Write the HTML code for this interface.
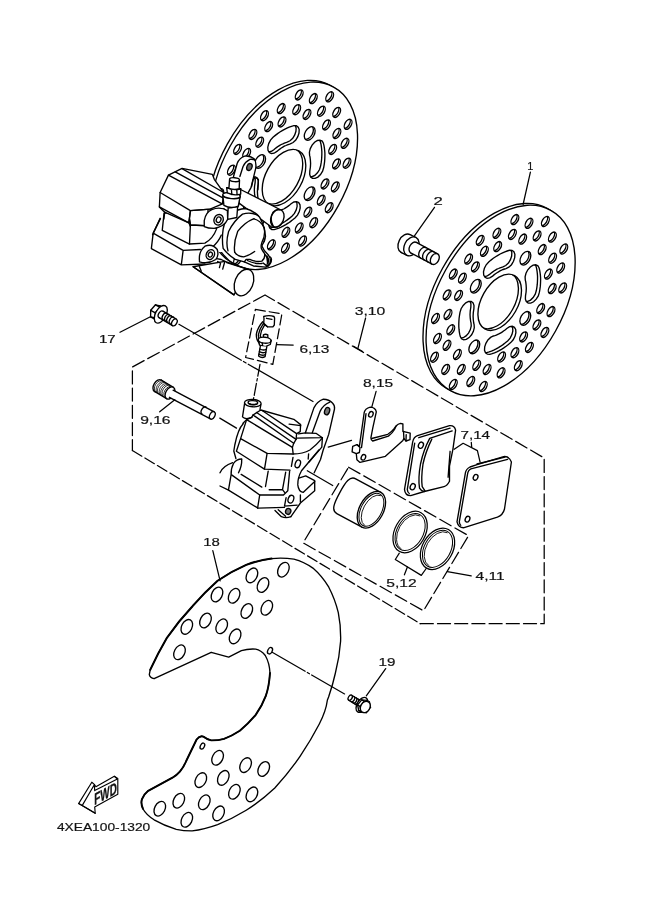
<!DOCTYPE html>
<html><head><meta charset="utf-8"><title>Front brake caliper</title>
<style>
html,body{margin:0;padding:0;background:#fff}
svg{display:block;filter:grayscale(1)}
text{font-family:"Liberation Sans",sans-serif;fill:#111}
</style></head><body>
<svg width="661" height="913" viewBox="0 0 661 913">
<rect width="661" height="913" fill="#fff"/>
<defs><path id="dS" d="M542.7 226.3 A5.50 3.20 119.1 1 0 548.1 216.7 A5.50 3.20 119.1 1 0 542.7 226.3Z M534.4 240.7 A5.50 3.20 119.1 1 0 539.8 231.1 A5.50 3.20 119.1 1 0 534.4 240.7Z M549.7 241.9 A5.50 3.20 119.1 1 0 555.1 232.3 A5.50 3.20 119.1 1 0 549.7 241.9Z M539.5 254.4 A5.50 3.20 119.1 1 0 544.9 244.8 A5.50 3.20 119.1 1 0 539.5 254.4Z M561.1 253.8 A5.50 3.20 119.1 1 0 566.5 244.2 A5.50 3.20 119.1 1 0 561.1 253.8Z M549.9 263.0 A5.50 3.20 119.1 1 0 555.3 253.4 A5.50 3.20 119.1 1 0 549.9 263.0Z M558.0 272.8 A5.50 3.20 119.1 1 0 563.4 263.2 A5.50 3.20 119.1 1 0 558.0 272.8Z M545.7 278.9 A5.50 3.20 119.1 1 0 551.1 269.3 A5.50 3.20 119.1 1 0 545.7 278.9Z M560.0 292.7 A5.50 3.20 119.1 1 0 565.4 283.1 A5.50 3.20 119.1 1 0 560.0 292.7Z M549.5 293.4 A5.50 3.20 119.1 1 0 554.9 283.8 A5.50 3.20 119.1 1 0 549.5 293.4Z M548.3 316.4 A5.50 3.20 119.1 1 0 553.7 306.8 A5.50 3.20 119.1 1 0 548.3 316.4Z M538.0 313.4 A5.50 3.20 119.1 1 0 543.4 303.8 A5.50 3.20 119.1 1 0 538.0 313.4Z M542.2 337.2 A5.50 3.20 119.1 1 0 547.6 327.6 A5.50 3.20 119.1 1 0 542.2 337.2Z M534.2 329.7 A5.50 3.20 119.1 1 0 539.6 320.1 A5.50 3.20 119.1 1 0 534.2 329.7Z M526.7 352.2 A5.50 3.20 119.1 1 0 532.1 342.6 A5.50 3.20 119.1 1 0 526.7 352.2Z M520.9 341.7 A5.50 3.20 119.1 1 0 526.3 332.1 A5.50 3.20 119.1 1 0 520.9 341.7Z M515.6 370.5 A5.50 3.20 119.1 1 0 521.0 360.9 A5.50 3.20 119.1 1 0 515.6 370.5Z M512.2 357.5 A5.50 3.20 119.1 1 0 517.6 347.9 A5.50 3.20 119.1 1 0 512.2 357.5Z M498.4 377.6 A5.50 3.20 119.1 1 0 503.8 368.0 A5.50 3.20 119.1 1 0 498.4 377.6Z M498.9 361.8 A5.50 3.20 119.1 1 0 504.3 352.2 A5.50 3.20 119.1 1 0 498.9 361.8Z M480.6 391.3 A5.50 3.20 119.1 1 0 486.0 381.7 A5.50 3.20 119.1 1 0 480.6 391.3Z M484.4 374.3 A5.50 3.20 119.1 1 0 489.8 364.7 A5.50 3.20 119.1 1 0 484.4 374.3Z M468.1 386.3 A5.50 3.20 119.1 1 0 473.5 376.7 A5.50 3.20 119.1 1 0 468.1 386.3Z M474.0 370.1 A5.50 3.20 119.1 1 0 479.4 360.5 A5.50 3.20 119.1 1 0 474.0 370.1Z M450.6 389.3 A5.50 3.20 119.1 1 0 456.0 379.7 A5.50 3.20 119.1 1 0 450.6 389.3Z M458.6 374.2 A5.50 3.20 119.1 1 0 464.0 364.6 A5.50 3.20 119.1 1 0 458.6 374.2Z M443.0 374.2 A5.50 3.20 119.1 1 0 448.4 364.6 A5.50 3.20 119.1 1 0 443.0 374.2Z M454.7 359.3 A5.50 3.20 119.1 1 0 460.1 349.7 A5.50 3.20 119.1 1 0 454.7 359.3Z M431.8 362.0 A5.50 3.20 119.1 1 0 437.2 352.4 A5.50 3.20 119.1 1 0 431.8 362.0Z M444.3 350.1 A5.50 3.20 119.1 1 0 449.7 340.5 A5.50 3.20 119.1 1 0 444.3 350.1Z M434.8 343.3 A5.50 3.20 119.1 1 0 440.2 333.7 A5.50 3.20 119.1 1 0 434.8 343.3Z M448.1 334.6 A5.50 3.20 119.1 1 0 453.5 325.0 A5.50 3.20 119.1 1 0 448.1 334.6Z M432.8 323.3 A5.50 3.20 119.1 1 0 438.2 313.7 A5.50 3.20 119.1 1 0 432.8 323.3Z M445.3 319.3 A5.50 3.20 119.1 1 0 450.7 309.7 A5.50 3.20 119.1 1 0 445.3 319.3Z M444.4 299.7 A5.50 3.20 119.1 1 0 449.8 290.1 A5.50 3.20 119.1 1 0 444.4 299.7Z M455.9 300.2 A5.50 3.20 119.1 1 0 461.3 290.6 A5.50 3.20 119.1 1 0 455.9 300.2Z M450.6 278.9 A5.50 3.20 119.1 1 0 456.0 269.3 A5.50 3.20 119.1 1 0 450.6 278.9Z M459.7 283.0 A5.50 3.20 119.1 1 0 465.1 273.4 A5.50 3.20 119.1 1 0 459.7 283.0Z M465.9 263.9 A5.50 3.20 119.1 1 0 471.3 254.3 A5.50 3.20 119.1 1 0 465.9 263.9Z M472.7 271.7 A5.50 3.20 119.1 1 0 478.1 262.1 A5.50 3.20 119.1 1 0 472.7 271.7Z M477.5 245.2 A5.50 3.20 119.1 1 0 482.9 235.6 A5.50 3.20 119.1 1 0 477.5 245.2Z M481.7 256.1 A5.50 3.20 119.1 1 0 487.1 246.5 A5.50 3.20 119.1 1 0 481.7 256.1Z M494.2 238.1 A5.50 3.20 119.1 1 0 499.6 228.5 A5.50 3.20 119.1 1 0 494.2 238.1Z M495.0 251.4 A5.50 3.20 119.1 1 0 500.4 241.8 A5.50 3.20 119.1 1 0 495.0 251.4Z M512.2 224.4 A5.50 3.20 119.1 1 0 517.6 214.8 A5.50 3.20 119.1 1 0 512.2 224.4Z M509.7 239.2 A5.50 3.20 119.1 1 0 515.1 229.6 A5.50 3.20 119.1 1 0 509.7 239.2Z M526.3 228.1 A5.50 3.20 119.1 1 0 531.7 218.5 A5.50 3.20 119.1 1 0 526.3 228.1Z M520.0 243.9 A5.50 3.20 119.1 1 0 525.4 234.3 A5.50 3.20 119.1 1 0 520.0 243.9Z M521.8 264.7 A7.40 4.60 119.1 1 0 529.0 251.7 A7.40 4.60 119.1 1 0 521.8 264.7Z M521.7 324.9 A7.40 4.60 119.1 1 0 528.9 311.9 A7.40 4.60 119.1 1 0 521.7 324.9Z M470.7 353.4 A7.40 4.60 119.1 1 0 477.9 340.4 A7.40 4.60 119.1 1 0 470.7 353.4Z M472.2 292.7 A7.40 4.60 119.1 1 0 479.4 279.7 A7.40 4.60 119.1 1 0 472.2 292.7Z"/><path id="dB" d="M484.8 329.0 A30.56 18.18 119.1 1 0 514.6 275.6 A30.56 18.18 119.1 1 0 484.8 329.0Z M539.1 268.0 L539.7 270.4 L540.1 272.8 L540.4 275.4 L540.6 278.0 L540.6 280.8 L540.5 283.5 L540.3 286.4 L539.9 289.3 L539.4 292.2 L538.3 295.9 L536.2 299.2 L533.6 301.8 L530.8 303.1 L528.2 303.1 L526.3 301.7 L525.4 299.1 L525.5 295.8 L525.8 293.9 L526.1 292.0 L526.2 290.1 L526.3 288.3 L526.2 286.5 L526.1 284.8 L525.9 283.2 L525.7 281.6 L525.3 280.1 L525.1 276.9 L526.0 273.3 L527.8 269.8 L530.3 267.0 L533.1 265.2 L535.7 264.8 L537.9 265.8Z M510.7 342.6 L508.4 344.5 L506.1 346.3 L503.8 347.9 L501.5 349.3 L499.2 350.6 L496.8 351.8 L494.5 352.8 L492.2 353.6 L489.9 354.3 L487.4 354.2 L485.5 352.8 L484.5 350.3 L484.7 346.9 L485.9 343.3 L487.9 339.9 L490.6 337.4 L493.4 336.0 L494.8 335.6 L496.3 335.1 L497.8 334.4 L499.4 333.7 L500.9 332.8 L502.4 331.9 L503.9 330.8 L505.4 329.7 L506.8 328.5 L509.6 326.7 L512.3 326.3 L514.4 327.3 L515.7 329.5 L515.9 332.7 L515.0 336.3 L513.2 339.8Z M460.3 336.6 L459.7 334.2 L459.3 331.8 L459.0 329.2 L458.8 326.6 L458.8 323.8 L458.9 321.1 L459.1 318.2 L459.5 315.3 L460.0 312.4 L461.1 308.7 L463.2 305.4 L465.8 302.8 L468.6 301.5 L471.2 301.5 L473.1 302.9 L474.0 305.5 L473.9 308.8 L473.6 310.7 L473.3 312.6 L473.2 314.5 L473.1 316.3 L473.2 318.1 L473.3 319.8 L473.5 321.4 L473.7 323.0 L474.1 324.5 L474.3 327.7 L473.4 331.3 L471.6 334.8 L469.1 337.6 L466.3 339.4 L463.7 339.8 L461.5 338.8Z M488.7 262.0 L491.0 260.1 L493.3 258.3 L495.6 256.7 L497.9 255.3 L500.2 254.0 L502.6 252.8 L504.9 251.8 L507.2 251.0 L509.5 250.3 L512.0 250.4 L513.9 251.8 L514.9 254.3 L514.7 257.7 L513.5 261.3 L511.5 264.7 L508.8 267.2 L506.0 268.6 L504.6 269.0 L503.1 269.5 L501.6 270.2 L500.0 270.9 L498.5 271.8 L497.0 272.7 L495.5 273.8 L494.0 274.9 L492.6 276.1 L489.8 277.9 L487.1 278.3 L485.0 277.3 L483.7 275.1 L483.5 271.9 L484.4 268.3 L486.2 264.8Z"/><path id="dO" d="M450.5 390.6 A103.10 62.10 119.1 1 0 550.7 210.4 A103.10 62.10 119.1 1 0 450.5 390.6Z"/><path id="dO2" d="M450.7 389.1 A101.40 61.00 119.1 1 0 549.3 211.9 A101.40 61.00 119.1 1 0 450.7 389.1Z"/>
<clipPath id="cS"><use href="#dS"/></clipPath><clipPath id="cB"><use href="#dB"/></clipPath>
<g id="disc" fill="none" stroke="#000" stroke-width="1.35">
<use href="#dO" transform="translate(-3.06 -1.70)" fill="#fff"/>
<use href="#dO" fill="#fff"/>
<g clip-path="url(#cS)"><use href="#dS" transform="translate(-1.75 -0.97)"/></g>
<g clip-path="url(#cB)"><use href="#dB" transform="translate(-3.06 -1.70)"/></g>
<use href="#dS"/><use href="#dB"/>
</g>
<g id="discL" fill="none" stroke="#000" stroke-width="1.35">
<use href="#dO2" transform="translate(-3.06 -1.70)" fill="#fff"/>
<use href="#dO2" fill="#fff"/>
<g clip-path="url(#cS)"><use href="#dS" transform="translate(-1.75 -0.97)"/></g>
<g clip-path="url(#cB)"><use href="#dB" transform="translate(-3.06 -1.70)"/></g>
<use href="#dS"/><use href="#dB"/>
</g>
</defs>
<g fill="none" stroke="#000" stroke-width="1.25" stroke-linecap="round" stroke-linejoin="round">
<path d="M265 295 L132.4 367 L132.4 450.5 M420.3 623.7 L544.2 623.7 L544.2 458 L265 295" stroke-dasharray="13 4.2"/>
<path d="M132.4 450.5 L420.3 623.7" stroke-dasharray="11 3.6"/>
<path d="M348.6 467.2 L468.5 535.7 L423.5 610.8 L303.1 542.9 Z" stroke-dasharray="13 4.5"/>
<path d="M255.4 309.4 L281.9 313.9 L272.8 364.3 L245.6 357.5 Z" stroke-dasharray="10 4"/>
<path d="M178.9 324.3 L313 401.5" stroke-dasharray="72 2.5 3 2.5 100"/>
<path d="M260 364.3 L253.5 399" stroke-dasharray="12 2.5 2.5 2.5"/>
<path d="M219.8 418.1 L236.5 428.1"/>
<path d="M328.2 447.1 L351.5 440.3"/>
<path d="M307.3 470.7 L332.7 485.5"/>
</g>
<use href="#discL" transform="translate(-215.7 -124.7)"/>
<use href="#disc"/>

<g transform="translate(215 140) scale(0.10590)" fill="none" stroke="#000" stroke-width="12.75" stroke-linecap="round" stroke-linejoin="round">
<path d="M175 345 L210 220 Q230 170 280 152 Q330 145 370 178 Q392 205 385 265 L340 450 L300 520 L170 450Z" fill="#fff"/>
<path d="M235 345 L265 250 Q285 205 330 183 Q355 178 378 188"/>
<ellipse cx="325" cy="255" rx="24" ry="34" transform="rotate(20 325 255)" fill="#666"/>
<path d="M345 440 L360 375 Q385 340 410 375 L405 470"/>
</g>
<g transform="translate(205 160) scale(0.15129)" fill="none" stroke="#000" stroke-width="8.92" stroke-linecap="round" stroke-linejoin="round">
<path d="M235 195 L505 332 Q535 380 500 430 Q470 455 435 440 L225 285Z" fill="#fff"/>
<ellipse cx="478" cy="385" rx="42" ry="60" transform="rotate(22 478 385)" fill="#fff"/>
<path d="M450 435 Q425 390 450 345 Q470 322 495 330"/>
</g>
<g transform="translate(145 215) scale(0.18155)" fill="none" stroke="#000" stroke-width="7.44" stroke-linecap="round" stroke-linejoin="round">
<path d="M440 255 L570 300 L490 440 L265 285Z" fill="#fff"/>
<path d="M450 262 L568 300 M265 285 L490 440 M300 285 L310 310"/>
<ellipse cx="545" cy="372" rx="50" ry="76" transform="rotate(22 545 372)" fill="#fff"/>
</g>
<g transform="translate(205 200) scale(0.12103)" fill="none" stroke="#000" stroke-width="11.15" stroke-linecap="round" stroke-linejoin="round">
<path d="M30 200 L160 200 L160 430 L40 430Z" fill="#fff" stroke="none"/>
<path d="M150 240 Q160 175 215 118 Q270 72 335 70 Q400 85 450 140 Q492 215 500 300 Q490 340 470 380 Q485 420 520 450 Q548 480 540 520 Q525 545 500 555 L400 545 L325 512 L250 490 Q185 450 150 400 Q138 320 150 240Z" fill="#fff"/>
<path d="M190 420 Q170 350 195 260 Q240 170 310 117 Q380 95 440 130"/>
<path d="M245 430 Q235 350 270 260 Q325 185 400 155 Q455 165 490 230 Q500 300 470 350 Q460 380 466 402 Q480 428 492 442 Q500 480 470 505 Q420 515 370 490 L340 490 L325 512"/>
<path d="M245 430 Q265 465 320 470 Q370 455 410 425"/>
<path d="M350 500 Q410 530 470 525 M498 452 Q520 480 515 530 M512 462 Q532 490 528 535 M480 520 Q500 540 520 545"/>
<path d="M135 290 Q110 350 60 390 L0 402"/>
</g>
<g transform="translate(145 215) scale(0.18155)" fill="none" stroke="#000" stroke-width="7.44" stroke-linecap="round" stroke-linejoin="round">
<path d="M395 240 L420 245 L440 255 L428 298 M400 256 L416 266 L410 290"/>
</g>
<g transform="translate(145 215) scale(0.18155)" fill="none" stroke="#000" stroke-width="7.44" stroke-linecap="round" stroke-linejoin="round">
<path d="M85 20 L45 100 L35 185 L200 275 L330 270 L305 190 L250 160 L95 85 Z" fill="#fff" stroke="none"/>
<path d="M85 20 L45 100 L35 185 L200 275 L330 270 M45 100 L210 195 L200 275 M210 195 L305 190"/>
<path d="M105 -10 L95 85 L245 160 L330 155 Q375 130 395 75 L355 60 L250 55 L240 -10Z" fill="#fff"/>
<path d="M245 160 L250 55 L355 60 M240 -10 L250 55" />
</g>
<g transform="translate(145 160) scale(0.15129)" fill="none" stroke="#000" stroke-width="8.92" stroke-linecap="round" stroke-linejoin="round">
<path d="M155 100 L245 55 L445 95 L458 128 L520 215 L512 290 L430 325 L300 335 L290 415 L130 345 L95 310 L100 215Z" fill="#fff"/>
<path d="M155 100 L510 290 M245 57 L520 215 M200 78 L515 250 M100 215 L300 335 L430 325 M95 310 L290 415 M300 335 L290 415 L300 440 M130 345 L125 390 M100 385 L50 495"/>
</g>
<g transform="translate(205 160) scale(0.15129)" fill="none" stroke="#000" stroke-width="8.92" stroke-linecap="round" stroke-linejoin="round">
<path d="M-5 400 Q5 345 45 328 Q100 305 148 335 L150 392 Q130 440 60 452 Q20 452 -5 440Z" fill="#fff"/>
<ellipse cx="90" cy="395" rx="30" ry="36" transform="rotate(25 90 395)"/>
<ellipse cx="90" cy="395" rx="15" ry="19" transform="rotate(25 90 395)"/>
</g>
<g transform="translate(145 215) scale(0.18155)" fill="none" stroke="#000" stroke-width="7.44" stroke-linecap="round" stroke-linejoin="round">
<path d="M300 250 Q295 200 330 172 Q370 155 398 190 Q408 225 390 245 Q350 272 300 258Z" fill="#fff"/>
<ellipse cx="360" cy="218" rx="22" ry="28" transform="rotate(25 360 218)"/>
<ellipse cx="360" cy="218" rx="11" ry="14" transform="rotate(25 360 218)"/>
</g>
<g transform="translate(205 160) scale(0.15129)" fill="none" stroke="#000" stroke-width="8.92" stroke-linecap="round" stroke-linejoin="round">
<path d="M153 318 L150 392 L210 380 L216 308Z" fill="#fff"/>
<path d="M118 235 L125 300 Q170 325 220 305 L232 240Z" fill="#fff"/>
<ellipse cx="175" cy="235" rx="58" ry="20" transform="rotate(5 175 235)" fill="#fff"/>
<path d="M143 183 L148 218 Q190 238 236 225 L236 190Z" fill="#fff"/>
<path d="M143 183 Q190 205 236 190 M175 197 L177 228 M210 196 L212 230"/>
<path d="M162 132 L158 188 Q195 200 226 190 L228 135Z" fill="#fff"/>
<ellipse cx="195" cy="130" rx="33" ry="13" transform="rotate(5 195 130)" fill="#fff"/>
</g>
<g fill="none" stroke="#000" stroke-width="1.35" stroke-linecap="round" stroke-linejoin="round">
<ellipse cx="405.6" cy="243.5" rx="10.00" ry="7.00" transform="rotate(116.6 405.6 243.5)" fill="#fff" />
<path d="M401.1 252.4 L406.9 255.3 L415.9 237.5 L410.1 234.6Z" fill="#fff" stroke="none"/>
<path d="M401.1 252.4 L406.9 255.3 M415.9 237.5 L410.1 234.6" fill="none"/>
<ellipse cx="411.4" cy="246.4" rx="10.00" ry="7.00" transform="rotate(116.6 411.4 246.4)" fill="#fff" />
<ellipse cx="413.5" cy="247.6" rx="5.90" ry="4.00" transform="rotate(118.2 413.5 247.6)" fill="#fff" />
<path d="M410.7 252.8 L432.0 264.2 L437.6 253.8 L416.3 242.4Z" fill="#fff" stroke="none"/>
<path d="M410.7 252.8 L432.0 264.2 M437.6 253.8 L416.3 242.4" fill="none"/>
<ellipse cx="434.8" cy="259.0" rx="5.90" ry="4.00" transform="rotate(118.2 434.8 259.0)" fill="#fff" />
<path d="M420.4 258.0 A5.90 4.00 118.0 0 1 426.0 247.6" fill="none"/>
<path d="M424.3 260.1 A5.90 4.00 118.0 0 1 429.9 249.7" fill="none"/>
<path d="M428.1 262.1 A5.90 4.00 118.0 0 1 433.7 251.7" fill="none"/>
</g>
<g fill="none" stroke="#000" stroke-width="1.35" stroke-linecap="round" stroke-linejoin="round">
<ellipse cx="252.8" cy="403.1" rx="8.30" ry="3.70" transform="rotate(4.0 252.8 403.1)" fill="none" />
<ellipse cx="252.9" cy="402.7" rx="4.80" ry="2.10" transform="rotate(4.0 252.9 402.7)" fill="none" />
<path d="M249.5 403.6 Q253 405.2 256.5 404" />
<path d="M244.6 403.3 L242.5 416.9 Q245.5 420 251.7 417.4" />
<path d="M260.9 404.7 L260 409.5" />
<path d="M251.7 417.4 L253 415 L260.8 410 L293.8 419.3 L300.6 424.6 L300.2 431.6 L296.6 433.6" />
<path d="M289.1 424.1 L300.7 425.6" />
<path d="M262.5 410.8 L296.6 433.6 L296.1 439.4 L293.7 443.3 L292.4 447.4 L293.2 454.1" />
<path d="M256.6 412.5 L296.1 439.4" />
<path d="M253 415 L293.7 443.3" />
<path d="M243 423.3 L246.6 419.6 L292.4 447.4" />
<path d="M246.6 419.6 L251.7 417.4" />
<path d="M246.6 419.6 L240.6 438.6 L267.1 453.4 L292.7 454 Q303 454 309.9 450 Q316 445.5 321.8 438.6" />
<path d="M243.2 423.8 Q238 429 234.8 445 L233.8 451 L235.9 458.5" />
<path d="M240.6 438.6 L236.4 451.3 L264.5 469.1 L290 470.2" />
<path d="M267.1 453.4 L264.5 469.1" />
<path d="M298.5 433.8 L305.4 432.8 L316 433.3 L322.4 437.7 L296.9 438.1" />
<path d="M322.4 437.7 L321.8 447.1 L309 462" />
<path d="M308.6 454 L308.2 459" />
<path d="M305.4 432.8 L313.9 407.9 Q317 401.5 323.4 399.2 Q329 399.2 332.5 403 Q335 405.5 334.5 409 L328.7 434.4 L323.2 450 L320.5 459.5 L314.2 472.8" />
<path d="M312.3 432.8 L320.2 411.1 Q323 405 329.8 402.1" />
<ellipse cx="327.1" cy="411.1" rx="2.40" ry="3.80" transform="rotate(20.0 327.1 411.1)" fill="#777" />
<path d="M241.7 459 Q236.5 459 233.5 463.5 Q231 468 231.1 474.9 L228.5 489.9" />
<path d="M241.7 459.5 Q242 466 238.5 472.8" />
<path d="M220 472.8 Q223 466 232.7 462.7" />
<path d="M220 486 L228.5 490.2 L258.1 508.2 L284.5 507.4" />
<path d="M231.6 474.9 L259.7 495 L283.5 495 L287.8 490.8 L289.6 471.2" />
<path d="M259.7 495 L257.6 508.2" />
<path d="M241.2 474.4 L261.8 487.1" />
<path d="M268.2 471.2 L265.5 486.5" />
<path d="M285.7 472.2 L282.5 489.7 L269.2 489.7 M282.5 489.7 L284.6 492.4" />
<path d="M293 457.4 L291.4 466.4" />
<ellipse cx="297.8" cy="463.8" rx="2.50" ry="4.00" transform="rotate(20.0 297.8 463.8)" fill="none" />
<ellipse cx="290.9" cy="499.2" rx="2.70" ry="4.00" transform="rotate(20.0 290.9 499.2)" fill="none" />
<path d="M286.1 497.7 L284.5 506.1 L297.2 505.1" />
<path d="M318.9 450 L301.5 470.7 Q297.5 478 297.8 484.9 Q298.5 491.5 303.1 492.4 L314.7 481.5" />
<path d="M298.8 478.1 L305.7 475.9 L314.7 480.7 L314.7 490.8 L300.4 503 L290.9 516.7" />
<path d="M300.4 495 L300.4 501.9" />
<path d="M275 510.4 L281.4 516.7 Q286 518.5 290.9 516.7" />
<path d="M278.2 509.8 L285.6 516.2" />
<ellipse cx="288.2" cy="511.4" rx="2.60" ry="3.00" transform="rotate(20.0 288.2 511.4)" fill="#777" />
</g>
<g fill="none" stroke="#000" stroke-width="1.35" stroke-linecap="round" stroke-linejoin="round">
<path d="M380.8 492.4 L355.7 478.8 C350.0 475.7 345.5 482.1 339.8 492.6 C334.0 503.2 331.1 510.5 336.8 513.6 L362.0 527.2" fill="#fff"/>
<ellipse cx="371.4" cy="509.8" rx="19.80" ry="12.00" transform="rotate(118.5 371.4 509.8)" fill="#fff" />
<ellipse cx="371.4" cy="509.8" rx="17.90" ry="10.30" transform="rotate(118.5 371.4 509.8)" fill="none" stroke-width="1.0"/>
<path d="M364.4 525.2 A16.90 9.40 118.5 0 1 380.5 495.5" fill="none" stroke-width="0.9"/>
<ellipse cx="410.1" cy="532.0" rx="22.20" ry="15.20" transform="rotate(119.5 410.1 532.0)" fill="#fff" stroke-width="1.25"/>
<ellipse cx="410.1" cy="532.0" rx="20.00" ry="13.10" transform="rotate(119.5 410.1 532.0)" fill="none" stroke-width="1.0"/>
<path d="M401.1 548.7 A18.90 12.00 119.5 0 1 419.8 515.8" fill="none" stroke-width="0.9"/>
<ellipse cx="437.5" cy="548.8" rx="22.20" ry="15.20" transform="rotate(119.5 437.5 548.8)" fill="#fff" stroke-width="1.25"/>
<ellipse cx="437.5" cy="548.8" rx="20.00" ry="13.10" transform="rotate(119.5 437.5 548.8)" fill="none" stroke-width="1.0"/>
<path d="M428.6 565.5 A18.90 12.00 119.5 0 1 447.2 532.6" fill="none" stroke-width="0.9"/>
<path d="M417.5 435.7 L449.5 425.7 Q454.5 425.2 455.6 430.2 L452.9 449.3 L449.5 466 L449.5 481.3 Q447 486 444 486.7 L424.3 491.5 L410.7 495.6 Q405 495.6 404.5 489.4 L412.7 441.8 Q413.8 437 417.5 435.7Z" fill="#fff"/>
<path d="M418.8 437.7 L450.1 428.2 M414.7 443.1 L407.3 489.4 Q407.5 492.5 409.3 493.5" />
<ellipse cx="420.9" cy="445.2" rx="2.40" ry="3.20" transform="rotate(25.0 420.9 445.2)" fill="none" />
<ellipse cx="412.7" cy="486.7" rx="2.40" ry="3.20" transform="rotate(25.0 412.7 486.7)" fill="none" />
<path d="M452.2 430.9 L429.7 438.4 Q423.5 450 420.5 464 Q418 478 419.5 488.1 Q421 491 424.3 491.5" />
<path d="M431.8 439.1 Q425.5 452 423 464 Q421 478 422.2 486.7 L425 490.8" />
<path d="M450.1 451.3 L448.1 477.2" />
<path d="M465.4 472.9 Q466 469 470 467 L477 464.7 L503.6 456.6 Q509 456 511.4 462 L504.5 509 Q503 515 497.4 517.2 L464.1 527.7 Q458.5 528 457 521.9 Z" fill="#fff"/>
<path d="M467.5 474.3 L459.3 521.9 Q459.5 524.5 460.7 525.3 M467.5 474.3 Q468 470 470.9 468.8 L507.6 459.3 M477 464 L504.9 457.2" />
<ellipse cx="475.6" cy="477.3" rx="2.20" ry="3.00" transform="rotate(25.0 475.6 477.3)" fill="none" />
<ellipse cx="467.5" cy="519.2" rx="2.20" ry="3.00" transform="rotate(25.0 467.5 519.2)" fill="none" />
<path d="M364.2 412.5 Q365 408.5 370.3 407.1 Q375.5 407.3 376.3 411.9 L372.7 428.3 L370.9 437.9 Q371 440.5 372.7 441 L388.4 436.1 Q392.5 433 394.5 429.5 L396.3 425.8 Q398 423.8 400.5 423.4 L402.9 424 L402.9 431.3 L410.2 433.1 L410 439.7 L406 441 L403.9 438.5 L402.9 440.4 L385.4 456.3 L360 462.4 L356.9 459.7 L356.3 453.7 L352.1 451.9 L352.7 446.4 L356.9 444.6 L359.4 446.4 Z" fill="#fff"/>
<path d="M366 413.7 L361.5 447.6 M371.7 438.5 L387.8 434.3 Q391.5 432 393.9 428.9 L395.9 426.1 M356.9 444.6 L360 447.6 L359.4 452.5 L356.3 453.7 M403.5 431.3 L403.9 438.5 M406 441 L406.2 434.6" />
<ellipse cx="370.9" cy="414.3" rx="2.10" ry="2.90" transform="rotate(25.0 370.9 414.3)" fill="none" />
<ellipse cx="363.4" cy="457.3" rx="2.10" ry="2.90" transform="rotate(25.0 363.4 457.3)" fill="none" />
</g>
<g fill="none" stroke="#000" stroke-width="1.35" stroke-linecap="round" stroke-linejoin="round">
<path d="M149.3 674.6 L150.2 669.8 Q158 653 166.8 638 Q178.5 621 192.5 606.2 Q204.5 592.5 217.6 580.8 Q231 571.5 246.2 564.9 Q259 560 271.6 558.6 Q283 557.5 293.9 559.2 Q304 562 312.9 568.1 Q322 576 328.8 587.2 Q335 599 338.3 612.6 Q341 626 340.6 641.2 Q339.5 657 335.4 673 Q333 684 328.6 697 L327.4 700 Q326 711 319.3 724 Q311 740 300.2 756.2 Q289 772.5 274.8 788 Q261 801 246.2 810.3 Q232 819 217.6 824.6 Q204 829.5 192.2 830.9 Q184 831 176.3 829.3 Q164 825.5 154.1 819.8 Q146 814.5 142.9 808.7 Q140.5 803.5 142 799.1 Q144 794 147.7 791.2 L172.5 777.7 Q181.5 772.5 186.2 761 L196.6 739.5 Q200 735.3 203.3 736.6 Q207 739.5 211.2 740.4 Q218 740.5 224 738.8 Q232 736 239.8 730.8 Q248 724 255.7 714.9 Q262 706 265.8 695.9 Q269 687 270 673 Q269.5 663 265.3 655.5 Q261 650 255.7 649.1 Q248 648.6 241.4 650.7 L228.7 657.1 L211.2 652.3 L154.1 678.7 Q150 678 149.3 674.6Z" fill="#fff"/>
<path d="M150.2 669.8 Q158 653 166.8 638 Q178.5 621 192.5 606.2 Q204.5 592.5 217.6 580.8 Q231 571.5 246.2 564.9 Q259 560 271.6 558.6" stroke-width="2"/>
<path d="M142.9 808.7 Q140.5 803.5 142 799.1 Q144 794 147.7 791.2 L172.5 777.7 Q181.5 772.5 186.2 761 L196.6 739.5 Q200 735.3 203.3 736.6 Q207 739.5 211.2 740.4 Q218 740.5 224 738.8 Q232 736 239.8 730.8 Q248 724 255.7 714.9 Q262 706 265.8 695.9 Q269 687 270 673" stroke-width="1.9"/>
<ellipse cx="283.4" cy="569.7" rx="5.20" ry="7.80" transform="rotate(27.0 283.4 569.7)" fill="none" />
<ellipse cx="251.9" cy="575.4" rx="5.20" ry="7.80" transform="rotate(27.0 251.9 575.4)" fill="none" />
<ellipse cx="263.0" cy="585.0" rx="5.20" ry="7.80" transform="rotate(27.0 263.0 585.0)" fill="none" />
<ellipse cx="217.0" cy="594.5" rx="5.20" ry="7.80" transform="rotate(27.0 217.0 594.5)" fill="none" />
<ellipse cx="234.1" cy="595.8" rx="5.20" ry="7.80" transform="rotate(27.0 234.1 595.8)" fill="none" />
<ellipse cx="246.8" cy="611.0" rx="5.20" ry="7.80" transform="rotate(27.0 246.8 611.0)" fill="none" />
<ellipse cx="266.8" cy="607.8" rx="5.20" ry="7.80" transform="rotate(27.0 266.8 607.8)" fill="none" />
<ellipse cx="186.8" cy="626.9" rx="5.20" ry="7.80" transform="rotate(27.0 186.8 626.9)" fill="none" />
<ellipse cx="205.5" cy="620.5" rx="5.20" ry="7.80" transform="rotate(27.0 205.5 620.5)" fill="none" />
<ellipse cx="221.7" cy="626.3" rx="5.20" ry="7.80" transform="rotate(27.0 221.7 626.3)" fill="none" />
<ellipse cx="235.1" cy="636.4" rx="5.20" ry="7.80" transform="rotate(27.0 235.1 636.4)" fill="none" />
<ellipse cx="179.5" cy="652.3" rx="5.20" ry="7.80" transform="rotate(27.0 179.5 652.3)" fill="none" />
<ellipse cx="217.6" cy="757.8" rx="5.20" ry="7.80" transform="rotate(27.0 217.6 757.8)" fill="none" />
<ellipse cx="245.6" cy="765.1" rx="5.20" ry="7.80" transform="rotate(27.0 245.6 765.1)" fill="none" />
<ellipse cx="263.7" cy="769.0" rx="5.20" ry="7.80" transform="rotate(27.0 263.7 769.0)" fill="none" />
<ellipse cx="200.8" cy="780.1" rx="5.20" ry="7.80" transform="rotate(27.0 200.8 780.1)" fill="none" />
<ellipse cx="223.3" cy="777.9" rx="5.20" ry="7.80" transform="rotate(27.0 223.3 777.9)" fill="none" />
<ellipse cx="234.4" cy="791.8" rx="5.20" ry="7.80" transform="rotate(27.0 234.4 791.8)" fill="none" />
<ellipse cx="251.9" cy="794.4" rx="5.20" ry="7.80" transform="rotate(27.0 251.9 794.4)" fill="none" />
<ellipse cx="178.8" cy="800.7" rx="5.20" ry="7.80" transform="rotate(27.0 178.8 800.7)" fill="none" />
<ellipse cx="204.3" cy="802.3" rx="5.20" ry="7.80" transform="rotate(27.0 204.3 802.3)" fill="none" />
<ellipse cx="218.6" cy="813.4" rx="5.20" ry="7.80" transform="rotate(27.0 218.6 813.4)" fill="none" />
<ellipse cx="159.8" cy="808.7" rx="5.20" ry="7.80" transform="rotate(27.0 159.8 808.7)" fill="none" />
<ellipse cx="186.8" cy="819.8" rx="5.20" ry="7.80" transform="rotate(27.0 186.8 819.8)" fill="none" />
<ellipse cx="270.0" cy="650.7" rx="2.20" ry="3.40" transform="rotate(27.0 270.0 650.7)" fill="none" />
<ellipse cx="202.4" cy="746.1" rx="2.00" ry="3.20" transform="rotate(27.0 202.4 746.1)" fill="none" />
</g>
<g fill="none" stroke="#000" stroke-width="1.35" stroke-linecap="round" stroke-linejoin="round">
<path d="M150.6 316.9 L150.7 310.3 L155.5 304.8 L160.1 305.8 L160.0 312.3 L155.2 317.9Z M155.1 319.3 L155.3 312.8 L160.1 307.3 L164.7 308.3 L164.5 314.8 L159.7 320.4Z" fill="#fff"/>
<path d="M150.6 316.9 L155.1 319.3" />
<path d="M150.7 310.3 L155.3 312.8" />
<path d="M155.5 304.8 L160.1 307.3" />
<path d="M160.1 305.8 L164.7 308.3" />
<path d="M160.0 312.3 L164.5 314.8" />
<path d="M155.2 317.9 L159.7 320.4" />
<ellipse cx="160.8" cy="314.3" rx="9.60" ry="5.30" transform="rotate(118.5 160.8 314.3)" fill="#fff" />
<ellipse cx="161.0" cy="314.4" rx="3.70" ry="2.40" transform="rotate(120.8 161.0 314.4)" fill="#fff" />
<path d="M159.1 317.6 L172.5 325.6 L176.3 319.2 L162.9 311.2Z" fill="#fff" stroke="none"/>
<path d="M159.1 317.6 L172.5 325.6 M176.3 319.2 L162.9 311.2" fill="none"/>
<ellipse cx="174.4" cy="322.4" rx="3.70" ry="2.40" transform="rotate(120.8 174.4 322.4)" fill="#fff" />
<path d="M163.0 319.7 A3.70 2.40 118.5 0 1 166.5 313.2" fill="none"/>
<path d="M165.4 321.0 A3.70 2.40 118.5 0 1 168.9 314.5" fill="none"/>
<path d="M167.7 322.3 A3.70 2.40 118.5 0 1 171.3 315.8" fill="none"/>
<path d="M170.1 323.6 A3.70 2.40 118.5 0 1 173.6 317.1" fill="none"/>
<ellipse cx="157.9" cy="385.7" rx="6.60" ry="4.20" transform="rotate(121.1 157.9 385.7)" fill="#fff" />
<path d="M154.5 391.4 L166.6 398.7 L173.4 387.3 L161.3 380.0Z" fill="#fff" stroke="none"/>
<path d="M154.5 391.4 L166.6 398.7 M173.4 387.3 L161.3 380.0" fill="none"/>
<ellipse cx="170.0" cy="393.0" rx="6.60" ry="4.20" transform="rotate(121.1 170.0 393.0)" fill="#fff" />
<path d="M155.8 392.2 A6.60 4.20 121.2 0 1 162.7 380.9" fill="none" stroke-width="0.8"/>
<path d="M157.4 393.1 A6.60 4.20 121.2 0 1 164.2 381.8" fill="none" stroke-width="0.8"/>
<path d="M158.9 394.0 A6.60 4.20 121.2 0 1 165.8 382.7" fill="none" stroke-width="0.8"/>
<path d="M160.5 395.0 A6.60 4.20 121.2 0 1 167.3 383.7" fill="none" stroke-width="0.8"/>
<path d="M162.0 395.9 A6.60 4.20 121.2 0 1 168.8 384.6" fill="none" stroke-width="0.8"/>
<path d="M163.5 396.8 A6.60 4.20 121.2 0 1 170.4 385.5" fill="none" stroke-width="0.8"/>
<path d="M165.1 397.8 A6.60 4.20 121.2 0 1 171.9 386.5" fill="none" stroke-width="0.8"/>
<path d="M169.4 397.3 L210.4 418.9 L214.2 411.9 L173.1 390.2Z" fill="#fff" stroke="none"/>
<path d="M169.4 397.3 L210.4 418.9 M214.2 411.9 L173.1 390.2" fill="none"/>
<ellipse cx="212.3" cy="415.4" rx="4.00" ry="2.50" transform="rotate(117.8 212.3 415.4)" fill="#fff" />
<path d="M201.9 413.8 A4.00 2.50 121.2 0 1 206.1 407.0" fill="none"/>
<path d="M263.7 316.5 Q269 314.8 274 316.5 L274.6 318 L274.3 325 L272.9 326.8 L267.5 326.8 L263.7 324 L264 318.5Z" fill="#fff"/>
<path d="M266.5 318.3 L271.9 319.3 M263.2 322.8 L267.5 326.8" />
<path d="M262.7 321.7 Q257.5 327.5 256.3 334.3 Q256.2 340 259.3 343.1 M264.4 325.4 Q261 330.2 260.3 335.6 L261.3 339 M263.4 323.6 Q259.3 329 258.3 335 L259.3 341" />
<path d="M263.4 338.4 L263.4 334.8 Q265.6 333.8 267.8 334.8 L267.8 338.4" fill="#fff"/>
<ellipse cx="264.7" cy="340.2" rx="6.40" ry="3.00" transform="rotate(5.0 264.7 340.2)" fill="#fff" />
<path d="M258.6 341.8 L259.6 345.2 L265.4 346.6 L270.2 344.5 L271.2 340.5 M262.3 343 L262.6 346" />
<path d="M260.3 346.3 L258.6 356 Q261.5 358.5 265.1 356.7 L266.8 346.6" fill="#fff"/>
<path d="M259.9 349 Q263 350.8 266.3 349.4 M259.4 351.7 Q262.5 353.5 265.8 352.1 M258.9 354.2 Q262 356 265.4 354.6" />
<ellipse cx="361.9" cy="704.9" rx="2.90" ry="1.80" transform="rotate(-58.4 361.9 704.9)" fill="#fff" />
<path d="M363.4 702.4 L351.7 695.2 L348.7 700.2 L360.4 707.4Z" fill="#fff" stroke="none"/>
<path d="M363.4 702.4 L351.7 695.2 M348.7 700.2 L360.4 707.4" fill="none"/>
<ellipse cx="350.2" cy="697.7" rx="2.90" ry="1.80" transform="rotate(-58.4 350.2 697.7)" fill="#fff" />
<path d="M351.3 701.7 A2.90 1.80 121.0 0 0 354.3 696.8" fill="none"/>
<path d="M353.2 702.9 A2.90 1.80 121.0 0 0 356.2 697.9" fill="none"/>
<path d="M355.0 704.0 A2.90 1.80 121.0 0 0 358.0 699.0" fill="none"/>
<path d="M356.9 705.1 A2.90 1.80 121.0 0 0 359.9 700.2" fill="none"/>
<ellipse cx="361.9" cy="704.9" rx="8.20" ry="4.80" transform="rotate(121.0 361.9 704.9)" fill="#fff" />
<path d="M358.7 710.5 L357.6 704.9 L361.7 699.8 L366.8 700.3 L367.9 705.9 L363.9 711.0Z" fill="#fff"/>
<path d="M358.7 710.5 L361.2 712.1" />
<path d="M357.6 704.9 L360.1 706.5" />
<path d="M361.7 699.8 L364.2 701.4" />
<path d="M366.8 700.3 L369.4 701.8" />
<path d="M367.9 705.9 L370.5 707.4" />
<path d="M363.9 711.0 L366.4 712.6" />
<path d="M361.2 712.1 L360.1 706.5 L364.2 701.4 L369.4 701.8 L370.5 707.4 L366.4 712.6Z" fill="#fff"/>
<ellipse cx="365.3" cy="707.0" rx="6.00" ry="4.60" transform="rotate(121.0 365.3 707.0)" fill="#fff" />
</g>
<g fill="none" stroke="#000" stroke-width="1.15" stroke-linecap="round" stroke-linejoin="round">
<path d="M78.6 803.6 L91.8 782.2 L94.3 784.4 L95.9 786.8 L114.3 776.3 L117.8 778.4 L117.8 794.2 L94.7 806.9 L95.2 813.3Z" fill="#fff"/>
<path d="M82.3 805.4 L94.3 784.8 L94.7 790.6 L117.4 779.1 M78.6 803.6 L82.3 805.4 L95.2 813.3 M114.3 776.3 L117.4 779.1" />
</g>
<text transform="matrix(0.60 -0.32 0 1 94.3 805.2)" font-size="16.5" font-weight="bold" stroke="#111" stroke-width="0.3">FWD</text>
<g fill="none" stroke="#000" stroke-width="1.25" stroke-linecap="round" stroke-linejoin="round">
<path d="M530.4 172.2 L523.1 204.5" />
<path d="M434.5 207.3 L414.1 236.4" />
<path d="M120.0 332.3 L149.9 317.0" />
<path d="M276.6 344.6 L293.2 345.1" />
<path d="M376.1 391.3 L371.7 407.4" />
<path d="M159.7 411.8 L174.8 399.7" />
<path d="M212.8 550.7 L220.1 580.8" />
<path d="M447.4 571.6 L471.2 575.8" />
<path d="M385.7 668.6 L366.3 695.8" />
<path d="M365.6 318.0 L357.9 348.3" />
<path d="M353.6 346.2 L362.6 351.5" />
<path d="M454.2 449.3 L463.1 443.3 L477.4 450.6 L480.1 462.2" />
<path d="M471.3 442.3 L471.7 447.4" />
<path d="M399.3 553.2 L395.3 559.5 L421.3 575.4 L426.2 568.5" />
<path d="M407.4 567.1 L404.4 574.8" />
<path d="M272.2 652.3 L345.7 694.6" stroke-dasharray="38 2.5 2.5 2.5"/>
</g>
<text transform="translate(527.31 170.00) scale(0.932 1)" font-size="11.8" stroke="#111" stroke-width="0.2">1</text>
<text transform="translate(433.52 204.60) scale(1.413 1)" font-size="11.8" stroke="#111" stroke-width="0.2">2</text>
<text transform="translate(354.77 314.70) scale(1.332 1)" font-size="11.8" stroke="#111" stroke-width="0.2">3,10</text>
<text transform="translate(98.91 343.00) scale(1.281 1)" font-size="11.8" stroke="#111" stroke-width="0.2">17</text>
<text transform="translate(299.38 352.80) scale(1.310 1)" font-size="11.8" stroke="#111" stroke-width="0.2">6,13</text>
<text transform="translate(362.94 387.10) scale(1.318 1)" font-size="11.8" stroke="#111" stroke-width="0.2">8,15</text>
<text transform="translate(140.17 424.20) scale(1.324 1)" font-size="11.8" stroke="#111" stroke-width="0.2">9,16</text>
<text transform="translate(460.42 439.40) scale(1.292 1)" font-size="11.8" stroke="#111" stroke-width="0.2">7,14</text>
<text transform="translate(203.22 546.40) scale(1.267 1)" font-size="11.8" stroke="#111" stroke-width="0.2">18</text>
<text transform="translate(386.20 587.00) scale(1.326 1)" font-size="11.8" stroke="#111" stroke-width="0.2">5,12</text>
<text transform="translate(475.57 580.10) scale(1.316 1)" font-size="11.8" stroke="#111" stroke-width="0.2">4,11</text>
<text transform="translate(378.51 665.60) scale(1.284 1)" font-size="11.8" stroke="#111" stroke-width="0.2">19</text>
<text transform="translate(56.91 830.90) scale(1.168 1)" font-size="11.8" stroke="#111" stroke-width="0.2">4XEA100-1320</text>
</svg>
</body></html>
